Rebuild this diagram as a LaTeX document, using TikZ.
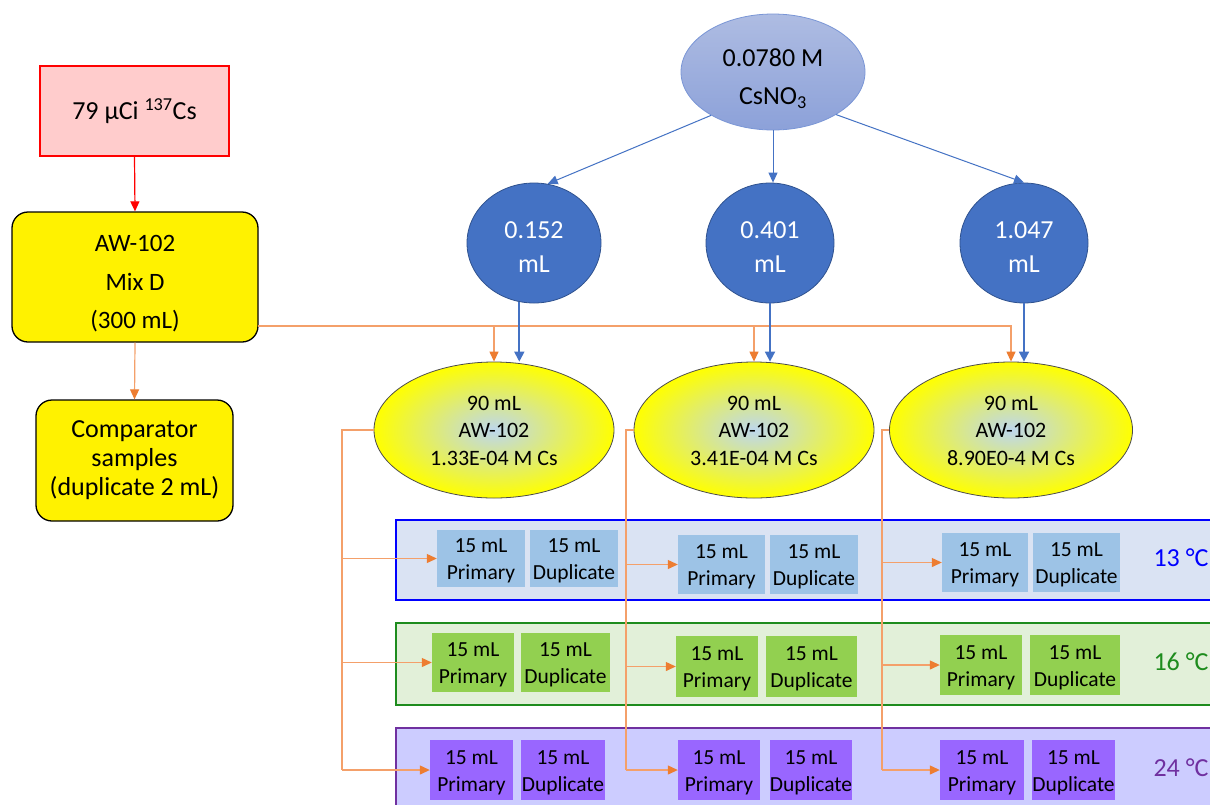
\documentclass[tikz,border=0pt]{standalone}
\usepackage{fontspec}
\setmainfont{Carlito}
\usetikzlibrary{shapes.geometric,arrows.meta,calc}
\newcommand\mlines[2]{\raisebox{#1}[\height][\depth]{\begin{tabular}{@{}c@{}}#2\end{tabular}}}
\definecolor{orline}{HTML}{F4A06A}
\definecolor{orhead}{HTML}{ED7D31}
\definecolor{bluefill}{HTML}{4472C4}
\definecolor{blueedge}{HTML}{2F528F}
\definecolor{topedge}{HTML}{7A96D6}
\definecolor{toptop}{HTML}{AEBCE2}
\definecolor{topbot}{HTML}{8CA1D9}
\definecolor{blueline}{HTML}{4472C4}
\definecolor{lightblue}{HTML}{BDD7EE}
\definecolor{pinkfill}{HTML}{FFCCCC}
\definecolor{bandA}{HTML}{DAE3F3}
\definecolor{bandB}{HTML}{E2F0D9}
\definecolor{bandC}{HTML}{CCCCFF}
\definecolor{boxA}{HTML}{9DC3E6}
\definecolor{boxB}{HTML}{92D050}
\definecolor{boxC}{HTML}{9966FF}
\definecolor{greenedge}{HTML}{1E8C1E}
\definecolor{purpedge}{HTML}{7030A0}
\tikzset{
  redbox/.style={draw=red, line width=1.3pt, fill=pinkfill, minimum width=189pt, minimum height=90pt, inner sep=0pt, font={\fontsize{26}{30}\selectfont}},
  yelbox/.style={draw=black, line width=1.3pt, fill=yellow, rounded corners=16pt, inner sep=0pt},
  topell/.style={ellipse, draw=topedge, line width=0.8pt, top color=toptop, bottom color=topbot, minimum width=184pt, minimum height=116pt, inner sep=0pt, font={\fontsize{26}{38}\selectfont}},
  circ/.style={ellipse, draw=blueedge, line width=0.8pt, fill=bluefill, text=white, minimum height=120pt, inner sep=0pt, font={\fontsize{26}{34}\selectfont}},
  yell/.style={ellipse, draw=black!70, line width=0.8pt, inner color=lightblue, outer color=yellow, minimum width=240pt, minimum height=136pt, inner sep=0pt, font={\fontsize{22}{27.5}\selectfont}},
  band/.style={line width=1.8pt},
  sbox/.style={inner sep=0pt, font={\fontsize{21.5}{27}\selectfont}},
  temp/.style={anchor=west, font={\fontsize{26}{30}\selectfont}},
  orarrow/.style={draw=orline, line width=1.2pt, -{Triangle[length=10pt,width=9pt,color=orhead]}},
  orlineonly/.style={draw=orline, line width=1.2pt},
  bluearrowthin/.style={draw=blueline, line width=1pt, -{Triangle[length=10pt,width=9pt]}},
  bluearrow/.style={draw=blueline, line width=1.8pt, -{Triangle[length=10pt,width=10pt]}},
}
\begin{document}
\begin{tikzpicture}[x=1pt,y=-1pt]
\useasboundingbox (0,0) rectangle (1210,804);
\clip (0,0) rectangle (1210,804);
\fill[white] (0,0) rectangle (1210,804);

% bands
\draw[band, draw=blue, fill=bandA] (396,520) rectangle (1240,600);
\draw[band, draw=greenedge, fill=bandB] (396,623) rectangle (1240,705);
\draw[band, draw=purpedge, fill=bandC] (396,728) rectangle (1240,830);

% left column
\node[redbox] (src) at (134.5,111) {79 µCi \textsuperscript{137}Cs};
\node[yelbox, minimum width=246pt, minimum height=130pt, font={\fontsize{25}{38.5}\selectfont}] (aw) at (135,277) {\mlines{-5.5pt}{AW-102\\Mix D\\(300 mL)}};
\node[yelbox, minimum width=197pt, minimum height=121pt, font={\fontsize{26}{29}\selectfont}] (cmp) at (134.5,460.5) {\mlines{0pt}{Comparator\\samples\\(duplicate 2 mL)}};

% top
\node[topell] (top) at (773,72) {\mlines{-6pt}{0.0780 M\\CsNO\textsubscript{3}}};
\node[circ, minimum width=134pt] (c1) at (534,243) {\mlines{-6pt}{0.152\\mL}};
\node[circ, minimum width=128pt] (c2) at (770,243) {\mlines{-6pt}{0.401\\mL}};
\node[circ, minimum width=128pt] (c3) at (1024,243) {\mlines{-6pt}{1.047\\mL}};

\node[yell] (e1) at (494,430) {\mlines{-2pt}{90 mL\\AW-102\\1.33E-04 M Cs}};
\node[yell] (e2) at (754,430) {\mlines{-2pt}{90 mL\\AW-102\\3.41E-04 M Cs}};
\node[yell, minimum width=243pt] (e3) at (1011,430) {\mlines{-2pt}{90 mL\\AW-102\\8.90E0-4 M Cs}};

% small boxes
\foreach \n/\x/\y/\w/\h/\c/\t in {
 p11/481/558.5/88/57/boxA/Primary, d11/574/558.5/88/57/boxA/Duplicate,
 p12/721.5/564.5/87/59/boxA/Primary, d12/814/564.5/88/59/boxA/Duplicate,
 p13/985/562.5/86/59/boxA/Primary, d13/1076.5/562.5/87/59/boxA/Duplicate,
 p21/473/662.5/82/59/boxB/Primary, d21/565.5/662.5/89/59/boxB/Duplicate,
 p22/717/666.5/82/61/boxB/Primary, d22/811.5/666.5/91/61/boxB/Duplicate,
 p23/981/665/82/60/boxB/Primary, d23/1075/665/90/60/boxB/Duplicate,
 p31/471.5/770/83/60/boxC/Primary, d31/563/770/84/60/boxC/Duplicate,
 p32/719/770/82/60/boxC/Primary, d32/811/770/82/60/boxC/Duplicate,
 p33/982/770/84/60/boxC/Primary, d33/1073.5/770/83/60/boxC/Duplicate}
 \node[sbox, fill=\c, minimum width=\w pt, minimum height=\h pt] (\n) at (\x,\y) {\mlines{-2.5pt}{15 mL\\\t}};

\node[temp, text=blue] (t1) at (1150,558) {13 °C};
\node[temp, text=greenedge] (t2) at (1150,662) {16 °C};
\node[temp, text=purpedge] (t3) at (1150,768) {24 °C};

% connectors left
\draw[draw=red, line width=1.2pt, -{Triangle[length=10pt,width=9pt]}] (src.south) -- (aw.north);
\draw[orarrow] (aw.south) -- (cmp.north);

% bus
\coordinate (bus) at (258,326);
\draw[orarrow] (bus) -| (e1.north);
\draw[orarrow] (bus) -| (e2.north);
\draw[orarrow] (bus) -| (e3.north);

% top to circles
\draw[bluearrowthin] (top.215) -- (c1.77);
\draw[bluearrowthin] (top.south) -- (top.south |- c2.north);
\draw[bluearrowthin] (top.326) -- (c3.north);

% circles to ellipses
\draw[bluearrow] (c1.256) -- (c1.256 |- e1.north);
\draw[bluearrow] (c2.south) -- (c2.south |- e2.north);
\draw[bluearrow] (c3.south) -- (c3.south |- e3.north);

% distribution
\coordinate (v1) at (342,430);
\coordinate (v2) at (626,430);
\coordinate (v3) at (882,430);
\draw[orlineonly] (e1.west) -- (v1) -- (v1 |- p31.west);
\draw[orlineonly] (e2.west) -- (v2) -- (v2 |- p32.west);
\draw[orlineonly] (e3.west) -- (v3) -- (v3 |- p33.west);
\foreach \v/\s in {v1/1, v2/2, v3/3} {
  \draw[orarrow] (\v |- p1\s.west) -- (p1\s.west);
  \draw[orarrow] (\v |- p2\s.west) -- (p2\s.west);
  \draw[orarrow] (\v |- p3\s.west) -- (p3\s.west);
}
\end{tikzpicture}
\end{document}
